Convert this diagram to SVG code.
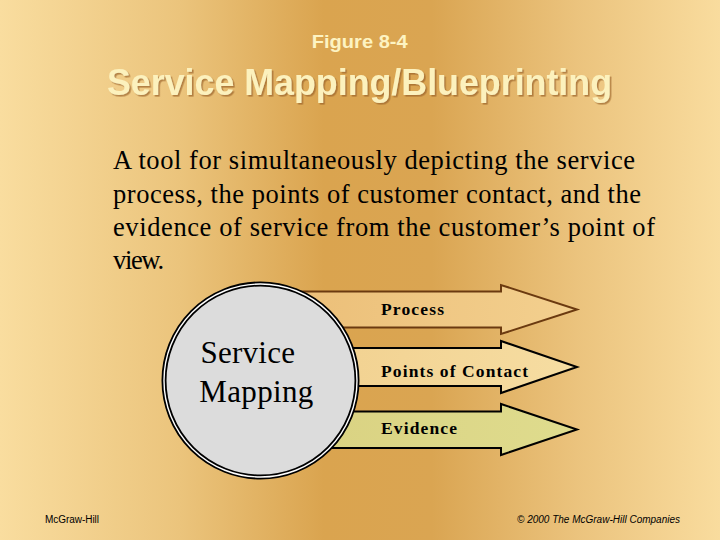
<svg xmlns="http://www.w3.org/2000/svg" width="720" height="540" viewBox="0 0 720 540">
  <defs>
    <linearGradient id="bg" x1="0" y1="0" x2="1" y2="0">
      <stop offset="0" stop-color="#f9dd9f"/>
      <stop offset="0.25" stop-color="#ebc47c"/>
      <stop offset="0.45" stop-color="#daa44f"/>
      <stop offset="0.6" stop-color="#daa552"/>
      <stop offset="0.8" stop-color="#ebc37d"/>
      <stop offset="1" stop-color="#f9dc9e"/>
    </linearGradient>
    <linearGradient id="gProc" x1="0" y1="0" x2="1" y2="0">
      <stop offset="0" stop-color="#eabb73"/>
      <stop offset="1" stop-color="#f3d08f"/>
    </linearGradient>
    <linearGradient id="gPoc" x1="0" y1="0" x2="1" y2="0">
      <stop offset="0" stop-color="#f0cd8a"/>
      <stop offset="1" stop-color="#f6dda2"/>
    </linearGradient>
    <linearGradient id="gEvi" x1="0" y1="0" x2="1" y2="0">
      <stop offset="0" stop-color="#d8cf7e"/>
      <stop offset="1" stop-color="#dfdc8e"/>
    </linearGradient>
    <filter id="shadow" x="-5%" y="-20%" width="110%" height="150%">
      <feDropShadow dx="1.6" dy="1.6" stdDeviation="0.6" flood-color="#9a6428" flood-opacity="0.7"/>
    </filter>
  </defs>
  <style>
    .fig { font-family: "Liberation Sans", Arial, sans-serif; font-weight: bold; fill: #fdf3c2; }
    .title { font-family: "Liberation Sans", Arial, sans-serif; font-weight: bold; font-size: 36px; fill: #fcf1bd; }
    .body { font-family: "Liberation Serif", "Times New Roman", serif; font-size: 26.5px; fill: #000; }
    .lbl { font-family: "Liberation Serif", "Times New Roman", serif; font-weight: bold; font-size: 17.5px; fill: #000; }
    .circ { font-family: "Liberation Serif", "Times New Roman", serif; font-size: 31px; fill: #000; }
    .foot { font-family: "Liberation Sans", Arial, sans-serif; font-size: 10px; fill: #000; }
    .arrow { stroke-width: 2; stroke-linejoin: miter; }
  </style>
  <rect x="0" y="0" width="720" height="540" fill="url(#bg)"/>

  <g id="header">
    <text class="fig" x="359.7" y="48" font-size="19" text-anchor="middle" textLength="96" lengthAdjust="spacingAndGlyphs">Figure 8-4</text>
    <text class="title" x="359.5" y="95" text-anchor="middle" textLength="505" lengthAdjust="spacingAndGlyphs" filter="url(#shadow)">Service Mapping/Blueprinting</text>
  </g>

  <g id="description">
    <text class="body" x="113" y="169" textLength="522" lengthAdjust="spacing">A tool for simultaneously depicting the service</text>
    <text class="body" x="113" y="202.5" textLength="528" lengthAdjust="spacing">process, the points of customer contact, and the</text>
    <text class="body" x="113" y="236" textLength="542" lengthAdjust="spacing">evidence of service from the customer’s point of</text>
    <text class="body" x="113" y="269" textLength="51" lengthAdjust="spacing">view.</text>
  </g>

  <g id="connectors">
    <g id="arrow-process">
      <polygon class="arrow" points="230,291.5 501,291.5 501,285 577,309.5 501,334 501,327.5 230,327.5" fill="url(#gProc)" stroke="#6b3a10"/>
      <text class="lbl" x="381" y="315" textLength="63" lengthAdjust="spacing">Process</text>
    </g>
    <g id="arrow-contact">
      <polygon class="arrow" points="230,348 501,348 501,341 577,367 501,393 501,386 230,386" fill="url(#gPoc)" stroke="#000"/>
      <text class="lbl" x="381" y="376.7" textLength="147" lengthAdjust="spacing">Points of Contact</text>
    </g>
    <g id="arrow-evidence">
      <polygon class="arrow" points="230,411.5 501,411.5 501,404 577,429.5 501,455 501,448 230,448" fill="url(#gEvi)" stroke="#000"/>
      <text class="lbl" x="381" y="434.3" textLength="76" lengthAdjust="spacing">Evidence</text>
    </g>
  </g>

  <g id="service-mapping">
    <circle cx="260.5" cy="380.5" r="96.5" fill="#dcdcdc" stroke="#000" stroke-width="5"/>
    <circle cx="260.5" cy="380.5" r="96.5" fill="none" stroke="#ffffff" stroke-width="1.4"/>
    <text class="circ" x="200.5" y="363.3" textLength="94.5" lengthAdjust="spacing">Service</text>
    <text class="circ" x="199.3" y="401.7" textLength="114" lengthAdjust="spacing">Mapping</text>
  </g>

  <g id="footer">
    <text class="foot" x="45" y="523" textLength="54" lengthAdjust="spacing">McGraw-Hill</text>
    <text class="foot" x="517" y="522.5" font-style="italic" textLength="163" lengthAdjust="spacing">© 2000 The McGraw-Hill Companies</text>
  </g>
</svg>
